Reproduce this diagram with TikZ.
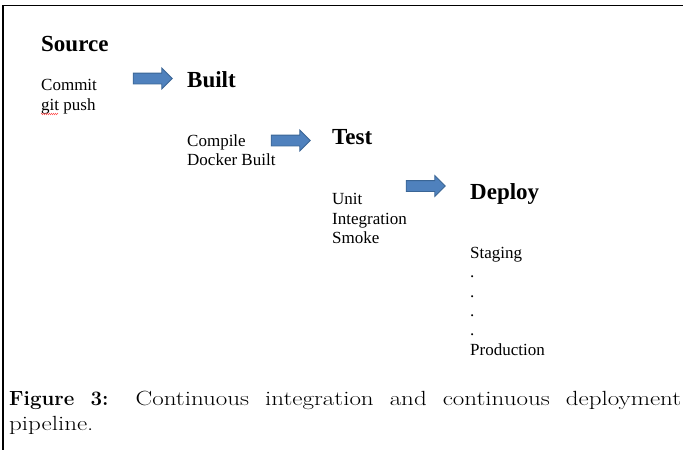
\documentclass[tikz,border=0pt]{standalone}
\usepackage{fontspec}
\newfontfamily\timesfont{Liberation Serif}
\newfontfamily\capfont[FakeStretch=1.22,BoldFeatures={FakeStretch=1.0}]{Latin Modern Roman}
\usetikzlibrary{shapes.arrows,decorations.pathmorphing}
\definecolor{arrowblue}{HTML}{4F81BD}
\definecolor{arrowedge}{HTML}{3A6595}
\begin{document}
\begin{tikzpicture}[x=1pt,y=-1pt,
    stage/.style={anchor=base west,inner sep=0pt,font=\timesfont\bfseries\fontsize{23}{27}\selectfont},
    task/.style={anchor=base west,inner sep=0pt,align=left,font=\timesfont\fontsize{17}{19.3}\selectfont},
    pipe/.style={single arrow,draw=arrowedge,fill=arrowblue,line width=0.8pt,inner sep=0pt,
      text height=5pt,text depth=5pt,minimum height=39pt,minimum width=0pt,single arrow head extend=5pt}]
    \useasboundingbox (0,0) rectangle (683,450);
    \draw[line width=1.8pt] (683,5.5) -- (3,5.5) -- (3,450);
    % stages and what runs in them (multi-line nodes sit on their last line)
    \node[stage] (source) at (41,51) {Source};
    \node[task] (commit) at (41,110) {Commit\\git push};
    \node[pipe] (arr1) at (150,78.5) {};
    \node[stage] (built) at (187,87) {Built};
    \node[task] (compile) at (187,165.7) {Compile\\Docker Built};
    \node[pipe] (arr2) at (288,140.5) {};
    \node[stage] (test) at (332,144) {Test};
    \node[task] (unit) at (332,243.3) {Unit\\Integration\\Smoke};
    \node[pipe] (arr3) at (423,186) {};
    \node[stage] (deploy) at (470,199) {Deploy};
    \node[task] (staging) at (470,355) {Staging\\.\\.\\.\\.\\Production};
    % spell-check mark under git
    \draw[red!80,line width=0.4pt,decorate,decoration={zigzag,amplitude=0.7pt,segment length=2pt}] (41,114) -- (58,114);
    % caption
    \node[anchor=base west,inner sep=0pt,text width=672pt,align=justify,font=\capfont\fontsize{20.5}{25}\selectfont] (caption) at (9,405.7)
      {\textbf{Figure 3:} Continuous integration and continuous deployment\linebreak pipeline.};
  \end{tikzpicture}
\end{document}
